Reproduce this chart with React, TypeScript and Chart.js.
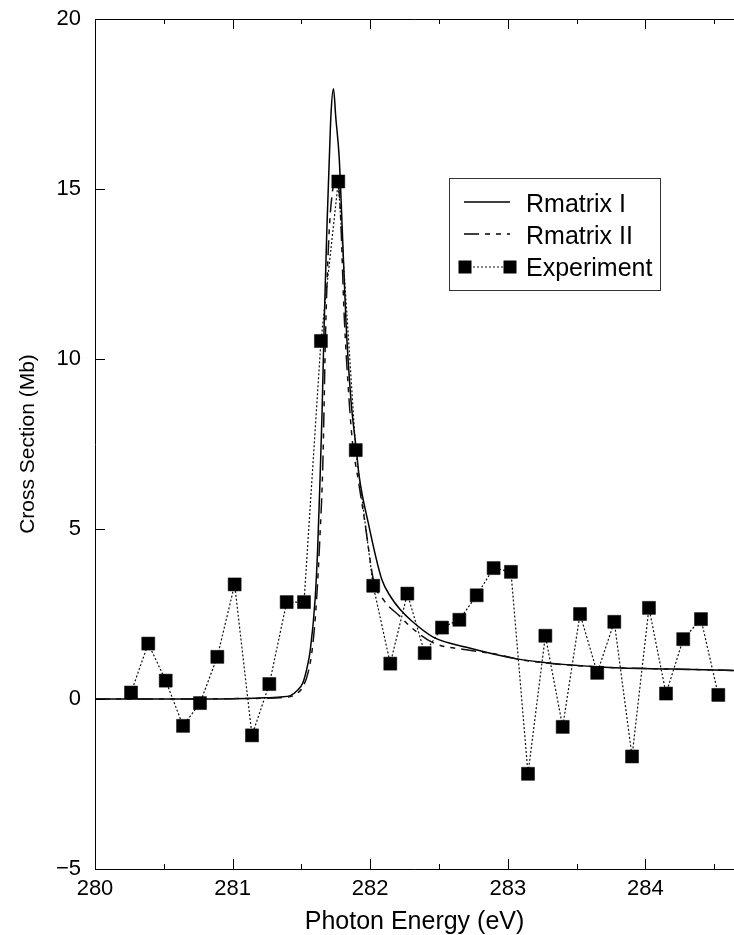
import { useEffect, useRef } from 'react';
import { Chart, registerables } from 'chart.js';

Chart.register(...registerables);

// ---- Data ----
const rm1X = [280.0, 280.5, 281.0, 281.2, 281.35, 281.42, 281.47, 281.51, 281.54, 281.565, 281.6, 281.618, 281.635, 281.65, 281.666, 281.685, 281.703, 281.715, 281.733, 281.75, 281.775, 281.8, 281.824, 281.86, 281.9, 281.92, 281.986, 282.084, 282.15, 282.218, 282.3, 282.458, 282.7, 283.067, 283.67, 284.2, 284.644];
const rm1Y = [0.0, 0.0, 0.01, 0.03, 0.06, 0.1, 0.25, 0.47, 0.9, 1.45, 2.95, 4.4, 6.4, 8.4, 11.1, 13.8, 15.9, 17.2, 17.95, 17.1, 15.9, 13.5, 11.1, 8.8, 7.3, 6.55, 5.18, 3.52, 3.0, 2.63, 2.3, 1.82, 1.52, 1.18, 0.94, 0.88, 0.84];

const rm2X = [280.0, 280.5, 281.0, 281.2, 281.35, 281.42, 281.47, 281.51, 281.55, 281.58, 281.61, 281.635, 281.655, 281.677, 281.7, 281.725, 281.755, 281.78, 281.812, 281.84, 281.87, 281.913, 281.962, 282.023, 282.1, 282.217, 282.3, 282.459, 282.7, 282.943, 283.06, 283.67, 284.2, 284.644];
const rm2Y = [0.0, 0.0, 0.01, 0.02, 0.04, 0.07, 0.17, 0.35, 0.8, 1.5, 2.9, 4.8, 6.8, 11.0, 13.6, 14.9, 15.35, 14.6, 11.2, 9.2, 7.6, 6.45, 5.18, 3.52, 2.9, 2.43, 2.1, 1.65, 1.45, 1.3, 1.18, 0.94, 0.88, 0.84];

const expX = [280.262, 280.387, 280.514, 280.64, 280.763, 280.889, 281.015, 281.141, 281.267, 281.393, 281.519, 281.642, 281.768, 281.895, 282.022, 282.146, 282.27, 282.396, 282.522, 282.648, 282.774, 282.897, 283.023, 283.147, 283.273, 283.399, 283.525, 283.65, 283.774, 283.903, 284.026, 284.15, 284.275, 284.404, 284.53];
const expY = [0.19, 1.63, 0.54, -0.79, -0.12, 1.24, 3.37, -1.07, 0.44, 2.85, 2.85, 10.53, 15.22, 7.32, 3.33, 1.04, 3.1, 1.35, 2.1, 2.33, 3.05, 3.85, 3.74, -2.2, 1.86, -0.82, 2.5, 0.77, 2.27, -1.69, 2.68, 0.16, 1.76, 2.35, 0.12];

const xTickValues = [280, 281, 282, 283, 284];
const xMinorValues = [280.5, 281.5, 282.5, 283.5, 284.5];
const yTickValues = [-5, 0, 5, 10, 15, 20];
const seriesLabels = ['Rmatrix I', 'Rmatrix II', 'Experiment'];
const xTitle = 'Photon Energy (eV)';
const yTitle = 'Cross Section (Mb)';

const FONT = "'Liberation Sans', Arial, Helvetica, sans-serif";
const DASH_II = [15, 6, 5, 6, 5, 6];
const DASH_EXP = [2, 2];

export default function App() {
  const ref = useRef<HTMLCanvasElement>(null);

  useEffect(() => {
    const canvas = ref.current;
    if (!canvas) return;

    const framePlugin = {
      id: 'framePlugin',
      afterDatasetsDraw(chart: any) {
        const { ctx, chartArea } = chart;
        const { left, right, top, bottom } = chartArea;
        const xs = chart.scales.x;
        const ys = chart.scales.y;
        ctx.save();
        ctx.strokeStyle = '#000';
        ctx.lineWidth = 1;
        ctx.setLineDash([]);
        ctx.beginPath();
        ctx.moveTo(right, top + 0.5);
        ctx.lineTo(left + 0.5, top + 0.5);
        ctx.lineTo(left + 0.5, bottom + 0.5);
        ctx.lineTo(right, bottom + 0.5);
        ctx.stroke();
        // x ticks (inward, bottom and top)
        ctx.beginPath();
        for (const v of xTickValues) {
          const px = Math.round(xs.getPixelForValue(v)) + 0.5;
          ctx.moveTo(px, bottom); ctx.lineTo(px, bottom - 10);
          ctx.moveTo(px, top); ctx.lineTo(px, top + 10);
        }
        for (const v of xMinorValues) {
          const px = Math.round(xs.getPixelForValue(v)) + 0.5;
          ctx.moveTo(px, bottom); ctx.lineTo(px, bottom - 5);
          ctx.moveTo(px, top); ctx.lineTo(px, top + 5);
        }
        for (const v of yTickValues) {
          const py = Math.round(ys.getPixelForValue(v)) + 0.5;
          ctx.moveTo(left, py); ctx.lineTo(left + 10, py);
        }
        ctx.stroke();

        // legend
        const lx = 449.5, ly = 178.5, lw = 211, lh = 112;
        ctx.fillStyle = '#fff';
        ctx.fillRect(lx, ly, lw, lh);
        ctx.strokeStyle = '#333';
        ctx.lineWidth = 1;
        ctx.strokeRect(lx, ly, lw, lh);
        const baselines = [211.5, 243.5, 276];
        const x0 = 464, x1 = 510;
        ctx.strokeStyle = '#000';
        ctx.lineWidth = 1.5;
        ctx.beginPath();
        ctx.moveTo(x0, baselines[0] - 9.5); ctx.lineTo(x1, baselines[0] - 9.5);
        ctx.stroke();
        ctx.setLineDash(DASH_II);
        ctx.beginPath();
        ctx.moveTo(x0, baselines[1] - 9.5); ctx.lineTo(x1, baselines[1] - 9.5);
        ctx.stroke();
        ctx.setLineDash(DASH_EXP);
        ctx.lineWidth = 1.2;
        ctx.strokeStyle = '#111';
        ctx.beginPath();
        ctx.moveTo(x0 + 1, baselines[2] - 9); ctx.lineTo(x1 - 1, baselines[2] - 9);
        ctx.stroke();
        ctx.setLineDash([]);
        ctx.fillStyle = '#000';
        const sq = 13;
        ctx.fillRect(465 - sq / 2, baselines[2] - 9 - sq / 2, sq, sq);
        ctx.fillRect(510 - sq / 2, baselines[2] - 9 - sq / 2, sq, sq);
        ctx.font = `25px ${FONT}`;
        ctx.textBaseline = 'alphabetic';
        ctx.textAlign = 'left';
        seriesLabels.forEach((t, i) => ctx.fillText(t, 526, baselines[i]));
        ctx.restore();
      },
    };

    const chart = new Chart(canvas, {
      type: 'line',
      data: {
        datasets: [
          {
            label: seriesLabels[2],
            data: expX.map((x, i) => ({ x, y: expY[i] })),
            borderColor: '#111',
            borderWidth: 1.2,
            borderDash: DASH_EXP,
            pointStyle: 'rect',
            pointRadius: 9.2,
            pointBackgroundColor: '#000',
            pointBorderColor: '#000',
            pointBorderWidth: 0.5,
            tension: 0,
          },
          {
            label: seriesLabels[1],
            data: rm2X.map((x, i) => ({ x, y: rm2Y[i] })),
            borderColor: '#111',
            borderWidth: 1.5,
            borderDash: DASH_II,
            pointRadius: 0,
            cubicInterpolationMode: 'monotone',
          },
          {
            label: seriesLabels[0],
            data: rm1X.map((x, i) => ({ x, y: rm1Y[i] })),
            borderColor: '#000',
            borderWidth: 1.5,
            pointRadius: 0,
            cubicInterpolationMode: 'monotone',
          },
        ],
      } as any,
      options: {
        animation: false,
        responsive: false,
        devicePixelRatio: 1,
        layout: { autoPadding: false, padding: { top: 19, right: 0, left: 0, bottom: 0 } },
        plugins: { legend: { display: false }, tooltip: { enabled: false } },
        scales: {
          x: {
            type: 'linear',
            min: 280,
            max: 284.644,
            afterFit: (s: any) => { s.height = 66; s.paddingLeft = 0; s.paddingRight = 0; },
            afterBuildTicks: (s: any) => { s.ticks = xTickValues.map((v) => ({ value: v })); },
            grid: { display: false, drawTicks: false },
            border: { display: false },
            ticks: {
              font: { family: FONT, size: 22 },
              color: '#000',
              padding: 7,
              maxRotation: 0,
              autoSkip: false,
              callback: (v: any) => String(v),
            },
            title: {
              display: true,
              text: xTitle,
              color: '#000',
              font: { family: FONT, size: 25, lineHeight: 0.9 },
              padding: { top: 0, bottom: 2 },
            },
          },
          y: {
            type: 'linear',
            min: -5,
            max: 20,
            afterFit: (s: any) => { s.width = 95; s.paddingTop = 0; s.paddingBottom = 0; },
            afterBuildTicks: (s: any) => { s.ticks = yTickValues.map((v) => ({ value: v })); },
            grid: { display: false, drawTicks: false },
            border: { display: false },
            ticks: {
              font: { family: FONT, size: 22 },
              color: '#000',
              padding: 14,
              callback: (v: any) => (Number(v) < 0 ? '\u2212' + Math.abs(Number(v)) : String(v)),
            },
            title: {
              display: true,
              text: yTitle,
              color: '#000',
              font: { family: FONT, size: 21 },
              padding: { top: 16, bottom: 0 },
            },
          },
        },
      } as any,
      plugins: [framePlugin],
    });

    return () => chart.destroy();
  }, []);

  return (
    <div style={{ position: 'absolute', left: 0, top: 0, background: '#fff' }}>
      <canvas ref={ref} width={734} height={935} style={{ display: 'block', width: 734, height: 935 }} />
    </div>
  );
}
